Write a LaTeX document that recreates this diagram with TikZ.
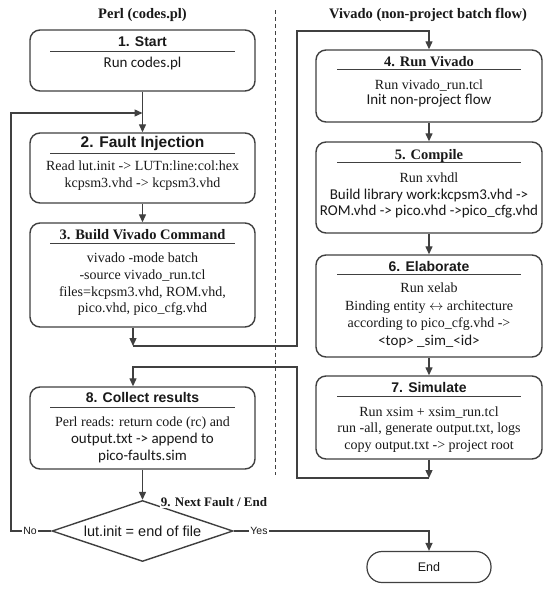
\documentclass[tikz,border=0pt]{standalone}
\usepackage{fontspec}
\setmainfont{Liberation Serif}
\newfontfamily\arialf{Liberation Sans}
\newfontfamily\calf{Carlito}
\usetikzlibrary{arrows.meta,shapes.geometric,calc}
\definecolor{lc}{RGB}{64,64,64}
\definecolor{tc}{RGB}{25,25,25}
\tikzset{
 stepbox/.style={draw=lc, line width=1.4pt, rounded corners=10pt, minimum width=225pt, inner sep=0pt},
 txt/.style={inner sep=0pt, text height=11pt, text depth=2pt, text=tc},
 serf/.style={txt, font=\fontsize{14}{16}\selectfont},
 calb/.style={txt, font=\calf\fontsize{15}{17}\selectfont},
 ttls/.style={txt, font=\arialf\bfseries\fontsize{14}{16}\selectfont},
 ttlr/.style={txt, font=\bfseries\fontsize{14.5}{16}\selectfont},
 sepl/.style={draw=lc, line width=1pt},
 conn/.style={draw=lc, line width=1.3pt},
 arr/.style={conn, -{Triangle[length=8pt,width=7pt]}},
 lbl/.style={inner sep=1pt, fill=white, text=tc, font=\arialf\fontsize{10.5}{12}\selectfont},
}
\begin{document}
\begin{tikzpicture}[x=1pt,y=-1pt]
\useasboundingbox (0,0) rectangle (550,590);
\fill[white] (0,0) rectangle (550,590);

% headers
\node[ttlr] (h1) at (142.5,14) {Perl (codes.pl)};
\node[ttlr] (h2) at (428,14) {Vivado (non-project batch flow)};
\draw[lc, line width=0.8pt, dash pattern=on 4pt off 3pt] (275,10) -- (275,475);

% box 1
\node[stepbox, minimum height=61pt] (b1) at (142.5,60.5) {};
\node[ttls] (t1) at (142.5,42) {1. Start};
\draw[sepl] (50,51) -- (235,51);
\node[calb] (b1a) at (142.5,63) {Run codes.pl};

% box 2
\node[stepbox, minimum height=70pt] (b2) at (142.5,168) {};
\node[ttls, font=\arialf\bfseries\fontsize{15.5}{17}\selectfont] (t2) at (142.5,143) {2. Fault Injection};
\draw[sepl] (50,153) -- (235,153);
\node[serf] (b2a) at (142.5,166) {Read lut.init -> LUTn:line:col:hex};
\node[serf] (b2b) at (142.5,183) {kcpsm3.vhd -> kcpsm3.vhd};

% box 3
\node[stepbox, minimum height=104pt] (b3) at (142.5,275) {};
\node[ttlr] (t3) at (142.5,235) {3. Build Vivado Command};
\draw[sepl] (50,243) -- (235,243);
\node[serf] (b3a) at (142.5,258) {vivado -mode batch};
\node[serf] (b3b) at (142.5,275) {-source vivado\_run.tcl};
\node[serf] (b3c) at (142.5,292) {files=kcpsm3.vhd, ROM.vhd,};
\node[serf] (b3d) at (142.5,308) {pico.vhd, pico\_cfg.vhd};

% box 8
\node[stepbox, minimum height=82pt] (b8) at (142.5,428) {};
\node[ttls] (t8) at (142.5,398) {8. Collect results};
\draw[sepl] (50,407) -- (235,407);
\node[serf] (b8a) at (142.5,422) {Perl reads: return code (rc) and};
\node[calb] (b8b) at (142.5,439) {output.txt -> append to};
\node[calb] (b8c) at (142.5,456) {pico-faults.sim};

% box 4
\node[stepbox, minimum width=226pt, minimum height=72pt] (b4) at (429,86) {};
\node[ttlr] (t4) at (429,62) {4. Run Vivado};
\draw[sepl] (337,69) -- (521,69);
\node[serf] (b4a) at (429,85) {Run vivado\_run.tcl};
\node[calb] (b4b) at (429,100) {Init non-project flow};

% box 5
\node[stepbox, minimum width=226pt, minimum height=91pt] (b5) at (429,187.5) {};
\node[ttlr] (t5) at (429,155) {5. Compile};
\draw[sepl] (337,162) -- (521,162);
\node[serf] (b5a) at (429,178) {Run xvhdl};
\node[calb] (b5b) at (429,195) {Build library work:kcpsm3.vhd ->};
\node[calb] (b5c) at (429,211) {ROM.vhd -> pico.vhd ->pico\_cfg.vhd};

% box 6
\node[stepbox, minimum width=226pt, minimum height=102pt] (b6) at (429,306) {};
\node[ttls] (t6) at (429,267) {6. Elaborate};
\draw[sepl] (337,274) -- (521,274);
\node[serf] (b6a) at (429,288) {Run xelab};
\node[serf] (b6b) at (429,306) {Binding entity $\leftrightarrow$ architecture};
\node[serf] (b6c) at (429,323) {according to pico\_cfg.vhd ->};
\node[calb] (b6d) at (429,341) {<top> \_sim\_<id>};

% box 7
\node[stepbox, minimum width=226pt, minimum height=83pt] (b7) at (429,417.5) {};
\node[ttls] (t7) at (429,388) {7. Simulate};
\draw[sepl] (337,396) -- (521,396);
\node[serf] (b7a) at (429,412) {Run xsim + xsim\_run.tcl};
\node[serf] (b7b) at (429,428) {run -all, generate output.txt, logs};
\node[serf] (b7c) at (429,445) {copy output.txt -> project root};

% decision and end
\node[diamond, draw=lc, line width=1.4pt, minimum width=181pt, minimum height=61pt, inner sep=0pt, aspect=3, text=tc, font=\arialf\fontsize{14.5}{16}\selectfont] (dm) at (142.5,531) {lut.init = end of file};
\node[draw=lc, line width=1.2pt, rounded corners=15pt, minimum width=124pt, minimum height=31pt, inner sep=0pt, text=tc, font=\arialf\fontsize{12.5}{14}\selectfont] (endn) at (429,567) {End};

% coordinates
\coordinate (fbA) at (11,531);
\coordinate (fb) at (142.5,113);
\coordinate (c1) at (133,346);
\coordinate (c1t) at (297,31);
\coordinate (c2) at (429,478);
\coordinate (c2t) at (297,367);

% connectors
\draw[arr] (b1.south) -- (b2.north);
\draw[arr] (b2.south) -- (b3.north);
\draw[arr] (b3.south -| c1) -- (c1);
\draw[arr] (c1) -| (c1t) -| (b4.north);
\draw[arr] (b4.south) -- (b5.north);
\draw[arr] (b5.south) -- (b6.north);
\draw[arr] (b6.south) -- (b7.north);
\draw[arr] (b7.south) -- (c2);
\draw[arr] (c2) -| (c2t) -| (c1 |- b8.north);
\draw[arr] (b8.south) -- (dm.north);
\draw[arr] (dm.west) -- (fbA) |- (fb);
\draw[arr] (dm.east) -| (endn.north);

% labels
\node[lbl] (no) at (30,531) {No};
\node[lbl] (yes) at (259,531) {Yes};
\node[inner sep=1pt, fill=white, text=tc, font=\bfseries\fontsize{13}{15}\selectfont] (n9) at (214,502) {9. Next Fault / End};
\end{tikzpicture}
\end{document}
